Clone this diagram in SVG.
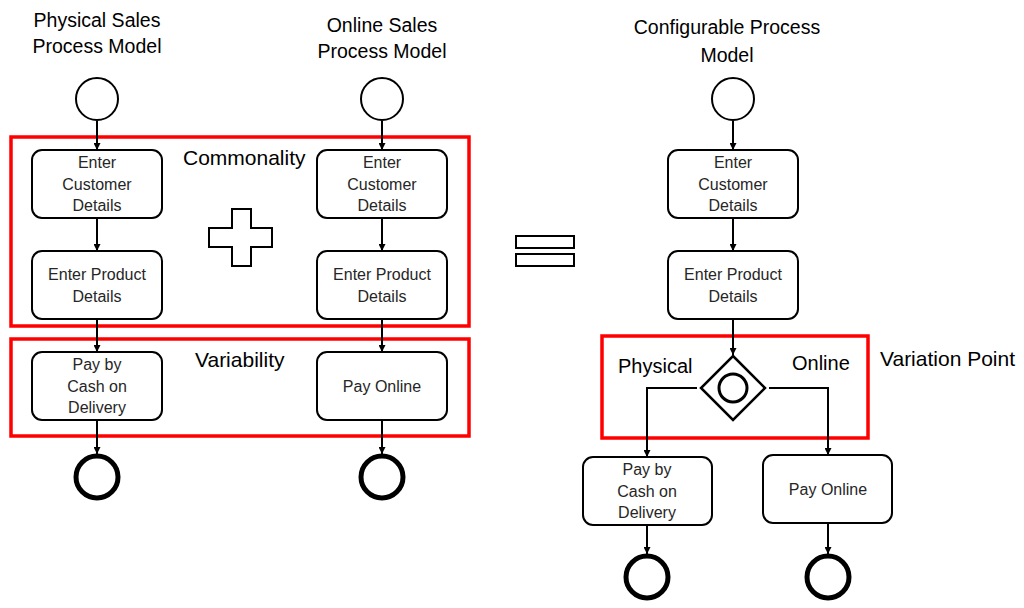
<svg xmlns="http://www.w3.org/2000/svg" width="1024" height="608" viewBox="0 0 1024 608">
<defs>
<marker id="arr" viewBox="0 0 10 10" refX="10" refY="5" markerWidth="7" markerHeight="7" markerUnits="userSpaceOnUse" orient="auto">
<path d="M0,0 L10,5 L0,10 z" fill="#000"/>
</marker>
</defs>
<style>
.task{fill:#fff;stroke:#000;stroke-width:2}
.start{fill:#fff;stroke:#000;stroke-width:2}
.end{fill:#fff;stroke:#000;stroke-width:5}
.t{font-family:"Liberation Sans",Arial,sans-serif;font-size:16px;fill:#262626;text-anchor:middle}
.title{font-family:"Liberation Sans",Arial,sans-serif;font-size:19.5px;fill:#000;text-anchor:middle}
.lbl{font-family:"Liberation Sans",Arial,sans-serif;font-size:20px;fill:#000}
.big{font-size:21px}
.red{fill:none;stroke:#ff0000;stroke-width:3.5}
.edge{fill:none;stroke:#000;stroke-width:2;marker-end:url(#arr)}
.sym{fill:#fff;stroke:#000;stroke-width:2}
</style>
<rect width="1024" height="608" fill="#fff"/>

<g id="titles">
<text class="title" x="97" y="27">Physical Sales</text>
<text class="title" x="97" y="53">Process Model</text>
<text class="title" x="382" y="32">Online Sales</text>
<text class="title" x="382" y="58">Process Model</text>
<text class="title" x="727" y="34">Configurable Process</text>
<text class="title" x="727" y="62">Model</text>
</g>

<g id="regions">
<rect id="commonality-box" class="red" x="11" y="137" width="458" height="189"/>
<rect id="variability-box" class="red" x="11" y="339" width="458" height="97"/>
<rect id="variation-point-box" class="red" x="602" y="336" width="266" height="102"/>
<text class="lbl big" x="183" y="165">Commonality</text>
<text class="lbl big" x="195" y="367">Variability</text>
<text class="lbl big" x="880" y="366">Variation Point</text>
<text class="lbl" x="618" y="373">Physical</text>
<text class="lbl" x="792" y="370">Online</text>
</g>

<g id="connectors">
<line class="edge" x1="97" y1="121" x2="97" y2="150"/>
<line class="edge" x1="97" y1="218" x2="97" y2="251"/>
<line class="edge" x1="97" y1="319" x2="97" y2="352"/>
<line class="edge" x1="97" y1="420" x2="97" y2="454"/>
<line class="edge" x1="382" y1="121" x2="382" y2="150"/>
<line class="edge" x1="382" y1="218" x2="382" y2="251"/>
<line class="edge" x1="382" y1="319" x2="382" y2="352"/>
<line class="edge" x1="382" y1="420" x2="382" y2="454"/>
<line class="edge" x1="733" y1="121" x2="733" y2="150"/>
<line class="edge" x1="733" y1="218" x2="733" y2="251"/>
<line class="edge" x1="733" y1="319" x2="733" y2="355"/>
<polyline class="edge" points="697,388 647,388 647,457"/>
<polyline class="edge" points="769,388 828,388 828,455"/>
<line class="edge" x1="647" y1="525" x2="647" y2="554"/>
<line class="edge" x1="828" y1="523" x2="828" y2="554"/>
</g>

<g id="physical-start"><circle class="start" cx="97" cy="99" r="21"/></g>
<g id="physical-customer"><rect class="task" x="32" y="150" width="130" height="68" rx="10"/>
<text class="t" x="97" y="168">Enter</text><text class="t" x="97" y="190">Customer</text><text class="t" x="97" y="211">Details</text></g>
<g id="physical-product"><rect class="task" x="32" y="251" width="130" height="68" rx="10"/>
<text class="t" x="97" y="280">Enter Product</text><text class="t" x="97" y="302">Details</text></g>
<g id="physical-pay"><rect class="task" x="32" y="352" width="130" height="68" rx="10"/>
<text class="t" x="97" y="370">Pay by</text><text class="t" x="97" y="392">Cash on</text><text class="t" x="97" y="413">Delivery</text></g>
<g id="physical-end"><circle class="end" cx="97" cy="477" r="21"/></g>

<g id="online-start"><circle class="start" cx="382" cy="99" r="21"/></g>
<g id="online-customer"><rect class="task" x="317" y="150" width="130" height="68" rx="10"/>
<text class="t" x="382" y="168">Enter</text><text class="t" x="382" y="190">Customer</text><text class="t" x="382" y="211">Details</text></g>
<g id="online-product"><rect class="task" x="317" y="251" width="130" height="68" rx="10"/>
<text class="t" x="382" y="280">Enter Product</text><text class="t" x="382" y="302">Details</text></g>
<g id="online-pay"><rect class="task" x="317" y="352" width="130" height="68" rx="10"/>
<text class="t" x="382" y="392">Pay Online</text></g>
<g id="online-end"><circle class="end" cx="382" cy="477" r="21"/></g>

<g id="plus"><path class="sym" d="M232,209 H251 V228 H272 V247 H251 V266 H232 V247 H209 V228 H232 Z"/></g>
<g id="equals"><rect class="sym" x="516" y="236" width="58" height="12"/><rect class="sym" x="516" y="254" width="58" height="12"/></g>

<g id="config-start"><circle class="start" cx="733" cy="99" r="21"/></g>
<g id="config-customer"><rect class="task" x="668" y="150" width="130" height="68" rx="10"/>
<text class="t" x="733" y="168">Enter</text><text class="t" x="733" y="190">Customer</text><text class="t" x="733" y="211">Details</text></g>
<g id="config-product"><rect class="task" x="668" y="251" width="130" height="68" rx="10"/>
<text class="t" x="733" y="280">Enter Product</text><text class="t" x="733" y="302">Details</text></g>
<g id="config-gateway"><path d="M733,356 L765,388 L733,420 L701,388 Z" fill="#fff" stroke="#000" stroke-width="2.5"/>
<circle cx="733" cy="388" r="14" fill="none" stroke="#000" stroke-width="3"/></g>
<g id="config-pay-cash"><rect class="task" x="583" y="457" width="129" height="68" rx="10"/>
<text class="t" x="647" y="475">Pay by</text><text class="t" x="647" y="497">Cash on</text><text class="t" x="647" y="518">Delivery</text></g>
<g id="config-pay-online"><rect class="task" x="763" y="455" width="129" height="68" rx="10"/>
<text class="t" x="828" y="495">Pay Online</text></g>
<g id="config-end-cash"><circle class="end" cx="647" cy="577" r="21"/></g>
<g id="config-end-online"><circle class="end" cx="828" cy="577" r="21"/></g>
</svg>
